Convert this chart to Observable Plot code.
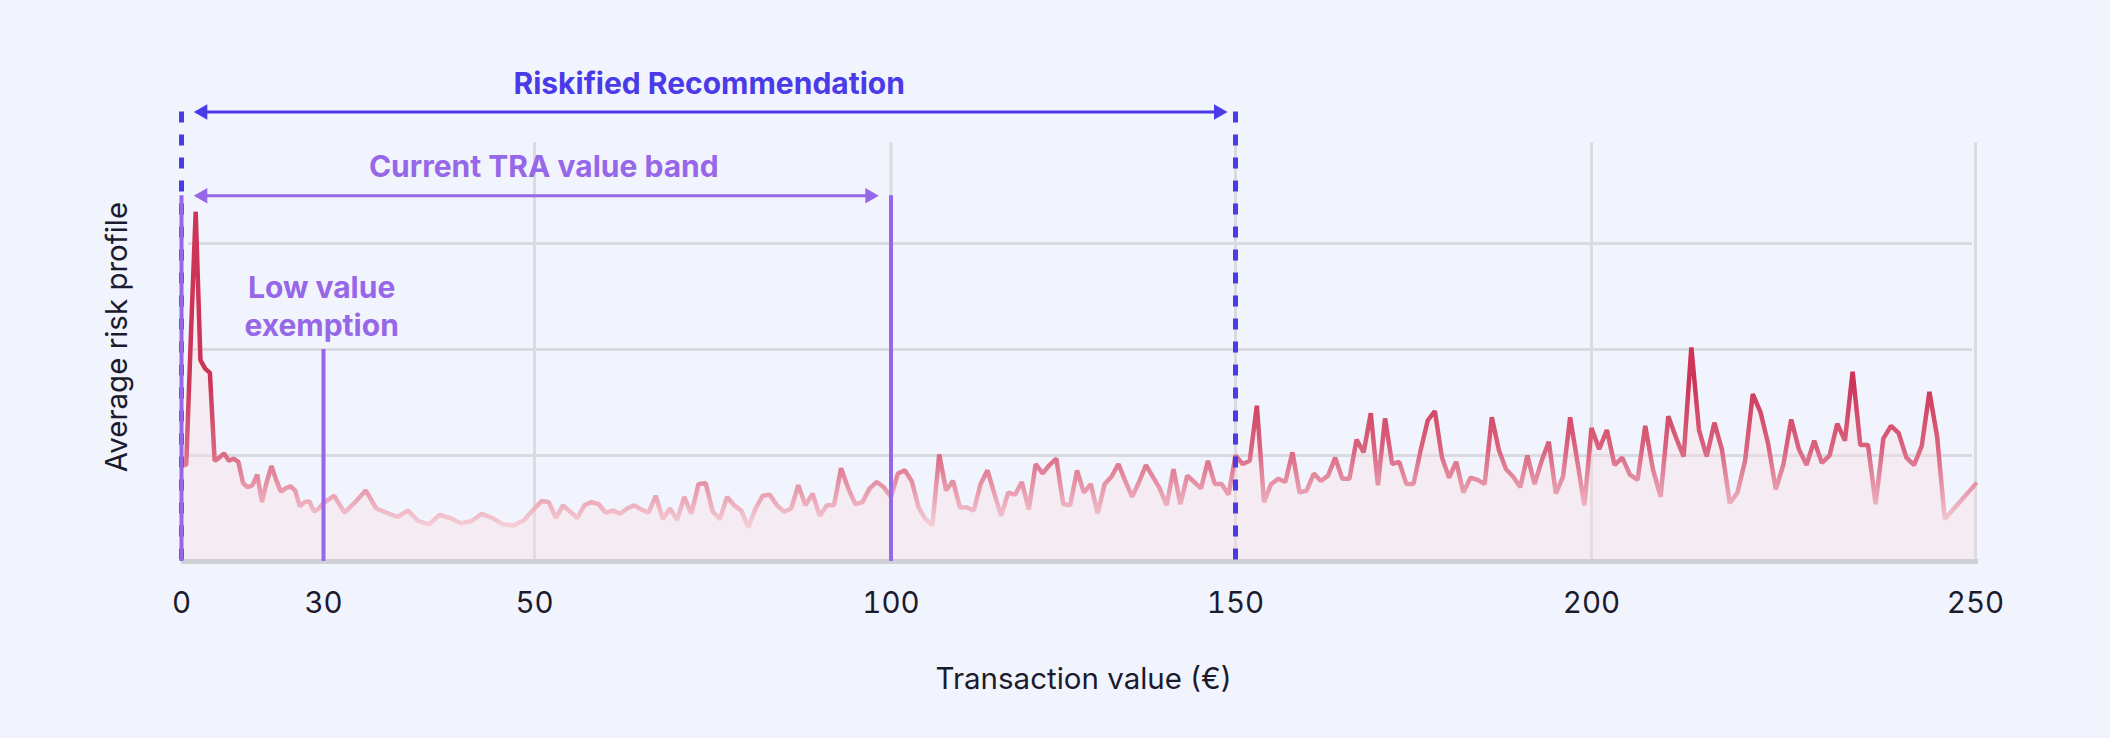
<!DOCTYPE html>
<html>
<head>
<meta charset="utf-8">
<script src="https://cdn.jsdelivr.net/npm/d3@7"></script>
<script src="https://cdn.jsdelivr.net/npm/@observablehq/plot@0.6"></script>
<style>
  html, body { margin: 0; padding: 0; background: #f1f4fd; }
</style>
</head>
<body>
<div id="chart"></div>
<script>
// ---------- data ----------
// average risk profile, one value per euro from 0 to 246, then the last point at 250
const riskProfile = [
  0.91, 0.91, 2.15, 3.30, 1.90, 1.82, 1.78, 0.95, 0.98, 1.02,
  0.95, 0.97, 0.94, 0.74, 0.70, 0.72, 0.82, 0.56, 0.75, 0.90,
  0.77, 0.66, 0.69, 0.71, 0.67, 0.52, 0.56, 0.57, 0.47, 0.50,
  0.55, 0.62, 0.46, 0.56, 0.67, 0.50, 0.46, 0.42, 0.48, 0.38,
  0.35, 0.44, 0.41, 0.36, 0.38, 0.45, 0.41, 0.35, 0.34, 0.39,
  0.50, 0.57, 0.56, 0.41, 0.53, 0.47, 0.41, 0.53, 0.56, 0.54,
  0.46, 0.48, 0.45, 0.50, 0.53, 0.49, 0.46, 0.62, 0.40, 0.50,
  0.39, 0.61, 0.45, 0.73, 0.74, 0.47, 0.40, 0.61, 0.53, 0.48,
  0.32, 0.50, 0.62, 0.63, 0.53, 0.47, 0.50, 0.72, 0.53, 0.64,
  0.43, 0.53, 0.53, 0.88, 0.69, 0.54, 0.56, 0.69, 0.75, 0.70,
  0.61, 0.83, 0.86, 0.76, 0.51, 0.40, 0.34, 1.01, 0.67, 0.76,
  0.51, 0.51, 0.48, 0.73, 0.86, 0.64, 0.43, 0.65, 0.63, 0.75,
  0.49, 0.92, 0.83, 0.91, 0.97, 0.54, 0.53, 0.86, 0.65, 0.73,
  0.45, 0.73, 0.80, 0.92, 0.76, 0.61, 0.75, 0.91, 0.80, 0.69,
  0.53, 0.87, 0.54, 0.81, 0.75, 0.69, 0.95, 0.73, 0.73, 0.63,
  1.00, 0.92, 0.95, 1.47, 0.56, 0.73, 0.78, 0.75, 1.03, 0.65,
  0.67, 0.83, 0.76, 0.81, 0.98, 0.78, 0.78, 1.15, 1.03, 1.40,
  0.72, 1.35, 0.92, 0.94, 0.73, 0.73, 1.05, 1.33, 1.42, 0.98,
  0.79, 0.94, 0.65, 0.79, 0.77, 0.73, 1.36, 1.05, 0.87, 0.80,
  0.70, 1.00, 0.73, 0.95, 1.13, 0.64, 0.80, 1.36, 0.95, 0.53,
  1.26, 1.06, 1.24, 0.91, 0.98, 0.82, 0.77, 1.28, 0.87, 0.61,
  1.37, 1.17, 0.99, 2.02, 1.24, 0.99, 1.31, 1.05, 0.55, 0.65,
  0.95, 1.58, 1.41, 1.11, 0.68, 0.92, 1.34, 1.06, 0.91, 1.14,
  0.93, 1.00, 1.30, 1.14, 1.79, 1.10, 1.10, 0.54, 1.16, 1.28,
  1.21, 0.98, 0.91, 1.09, 1.60, 1.18, 0.40,
  0.73
];
const transactionValues = d3.range(0, 247).concat([250]);

// axis
const xTicks = [0, 30, 50, 100, 150, 200, 250];
const xTickLabels = ["0", "30", "50", "100", "150", "200", "250"];
const gridX = [50, 100, 150, 200, 250];
const gridY = [1, 2, 3];
const xTitle = "Transaction value (€)";
const yTitle = "Average risk profile";

// annotations (in data units)
const recommendationEdges = [0, 150];
const recommendationTop = 4.24;
const recommendationArrow = {from: 2.66, to: 148.8, level: 4.24};
const recommendationLabel = {text: "Riskified Recommendation", x: 74.5, y: 4.5};

const bandEdges = [0, 100];
const bandTop = 3.45;
const bandArrow = {from: 2.66, to: 98.25, level: 3.45};
const bandLabel = {text: "Current TRA value band", x: 51.3, y: 3.72};

const exemptionEdges = [30];
const exemptionTop = 2.0;
const exemptionLabel = {text: "Low value\nexemption", x: 29.6, y: 2.42};

// ---------- style ----------
const BLUE = "#4a3ae8";
const PURPLE = "#9667e8";
const GRID = "#dadbe0";
const INK = "#1b1b2d";
const FONT = "Inter, 'Open Sans', sans-serif";

const data = transactionValues.map((x, i) => ({x, y: riskProfile[i]}));

const chart = Plot.plot({
  width: 2110,
  height: 738,
  marginLeft: 181,
  marginRight: 135,
  marginTop: 137,
  marginBottom: 177,
  style: {background: "#f1f4fd", fontFamily: FONT},
  x: {type: "linear", domain: xTicks, range: [181, 323, 534, 890.5, 1235, 1591, 1975]},
  y: {domain: [0, 4], axis: null},
  marks: [
    // grid
    Plot.ruleY(gridY, {x1: 0, x2: 250, stroke: GRID, strokeWidth: 3, insetLeft: 7, insetRight: 3}),
    Plot.ruleX(gridX, {y1: 0, y2: 3.95, stroke: GRID, strokeWidth: 3}),
    // area fill
    Plot.areaY(data, {x: "x", y: "y", fill: "rgb(255,220,224)", fillOpacity: 0.32}),
    // baseline
    Plot.ruleY([0], {x1: 0, x2: 250, stroke: "#d0d1d6", strokeWidth: 5, insetRight: -3}),
    // line
    Plot.lineY(data, {x: "x", y: "y", stroke: "url(#riskGrad)", strokeWidth: 4.5, strokeLinejoin: "bevel"}),
    // recommendation dashed edges
    Plot.ruleX(recommendationEdges, {y1: recommendationTop, y2: 0, stroke: BLUE, strokeWidth: 5, strokeDasharray: "11,12"}),
    // band & exemption edges
    Plot.ruleX(bandEdges, {y1: 0, y2: bandTop, stroke: PURPLE, strokeWidth: 4}),
    Plot.ruleX(exemptionEdges, {y1: 0, y2: exemptionTop, stroke: PURPLE, strokeWidth: 4}),
    // recommendation arrow
    Plot.ruleY([recommendationArrow], {y: "level", x1: "from", x2: "to", stroke: BLUE, strokeWidth: 3, insetLeft: 6, insetRight: 6}),
    Plot.dot([recommendationArrow], {x: "from", y: "level", symbol: "triangle", r: 5.8, rotate: -90, dx: 8.7, fill: BLUE, stroke: "none"}),
    Plot.dot([recommendationArrow], {x: "to", y: "level", symbol: "triangle", r: 5.8, rotate: 90, dx: -8.7, fill: BLUE, stroke: "none"}),
    Plot.text([recommendationLabel], {x: "x", y: "y", text: "text", fill: BLUE, fontSize: 30, fontWeight: 700}),
    // band arrow
    Plot.ruleY([bandArrow], {y: "level", x1: "from", x2: "to", stroke: PURPLE, strokeWidth: 3, insetLeft: 6, insetRight: 6}),
    Plot.dot([bandArrow], {x: "from", y: "level", symbol: "triangle", r: 5.8, rotate: -90, dx: 8.7, fill: PURPLE, stroke: "none"}),
    Plot.dot([bandArrow], {x: "to", y: "level", symbol: "triangle", r: 5.8, rotate: 90, dx: -8.7, fill: PURPLE, stroke: "none"}),
    Plot.text([bandLabel], {x: "x", y: "y", text: "text", fill: PURPLE, fontSize: 30, fontWeight: 700}),
    // exemption label
    Plot.text([exemptionLabel], {x: "x", y: "y", text: "text", fill: PURPLE, fontSize: 30, fontWeight: 700, lineHeight: 1.27}),
    // axis
    Plot.axisX(xTicks, {tickSize: 0, tickPadding: 31, fontSize: 29.5, fill: INK, tickFormat: (d, i) => xTickLabels[i], label: null}),
    Plot.text([xTitle], {frameAnchor: "bottom", dy: 127, dx: 5, fontSize: 29.5, fill: INK}),
    Plot.text([yTitle], {frameAnchor: "left", textAnchor: "middle", rotate: -90, dx: -63.5, dy: -12.5, fontSize: 29.5, fill: INK})
  ]
});

// vertical colour gradient for the risk line
const ns = "http://www.w3.org/2000/svg";
const yScale = chart.scale("y");
const defs = document.createElementNS(ns, "defs");
const grad = document.createElementNS(ns, "linearGradient");
grad.setAttribute("id", "riskGrad");
grad.setAttribute("gradientUnits", "userSpaceOnUse");
grad.setAttribute("x1", 0); grad.setAttribute("x2", 0);
grad.setAttribute("y1", yScale.apply(1.7));
grad.setAttribute("y2", yScale.apply(0.3));
[[0, "#cd3457"], [0.45, "#d9637e"], [0.8, "#eba9b9"], [1, "#f6d4dc"]].forEach(([o, c]) => {
  const s = document.createElementNS(ns, "stop");
  s.setAttribute("offset", o);
  s.setAttribute("stop-color", c);
  grad.appendChild(s);
});
defs.appendChild(grad);
chart.insertBefore(defs, chart.firstChild);

document.getElementById("chart").appendChild(chart);
</script>
</body>
</html>
